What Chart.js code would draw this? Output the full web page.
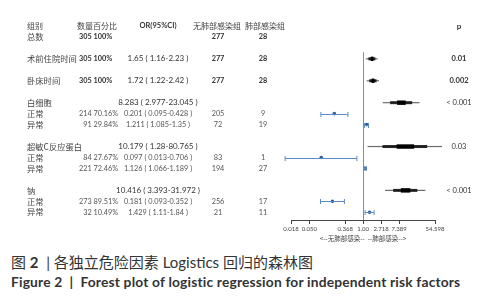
<!DOCTYPE html>
<html>
<head>
<meta charset="utf-8">
<script src="https://cdn.jsdelivr.net/npm/chart.js@4/dist/chart.umd.min.js"></script>
<style>
  body { margin: 0; background: #fff; width: 491px; height: 300px; overflow: hidden; }
  #wrap { position: relative; width: 491px; height: 244px; }
  .cap { position: absolute; left: 11px; white-space: nowrap; color: #333; font-family: Lato, "Noto Sans CJK SC", sans-serif; line-height: 1.2; }
  #cap1 { top: 253px; font-size: 15px; }
  #cap1 b { font-weight: bold; }
  #cap2 { top: 274px; font-size: 13.8px; font-weight: bold; letter-spacing: 0.18px; }
</style>
</head>
<body>
<div id="wrap"><canvas id="chart"></canvas></div>
<div class="cap" id="cap1">图 <b>2</b> &nbsp;|&nbsp;各独立危险因素 Logistics 回归的森林图</div>
<div class="cap" id="cap2">Figure 2 &nbsp;|&nbsp; Forest plot of logistic regression for independent risk factors</div>
<script>
// table rows (header row is separate)
const headers = ['组别', '数量百分比', 'OR(95%CI)', '无肺部感染组', '肺部感染组', 'p'];
const rowLabels = ['总数', '术前住院时间', '卧床时间', '白细胞', '正常', '异常', '超敏C反应蛋白', '正常', '异常', '钠', '正常', '异常'];
const rowKind = ['total', 'var', 'var', 'var', 'sub', 'sub', 'var', 'sub', 'sub', 'var', 'sub', 'sub'];
const counts = [305, 305, 305, null, 214, 91, null, 84, 221, null, 273, 32];
const percents = ['100%', '100%', '100%', null, '70.16%', '29.84%', null, '27.67%', '72.46%', null, '89.51%', '10.49%'];
const orValues = [null, 1.65, 1.72, 8.283, 0.201, 1.211, 10.179, 0.097, 1.126, 10.416, 0.181, 1.429];
const ciLow = [null, 1.16, 1.22, 2.977, 0.095, 1.085, 1.28, 0.013, 1.066, 3.393, 0.093, 1.11];
const ciHigh = [null, 2.23, 2.42, 23.045, 0.428, 1.35, 80.765, 0.706, 1.189, 31.972, 0.352, 1.84];
const noInfection = [277, 277, 277, null, 205, 72, null, 83, 194, null, 256, 21];
const infection = [28, 28, 28, null, 9, 19, null, 1, 27, null, 17, 11];
const pValues = [null, '0.01', '0.002', '< 0.001', null, null, '0.03', null, null, '< 0.001', null, null];
const tickValues = [0.018, 0.050, 0.368, 1.00, 2.718, 7.389, 54.598];
const tickLabels = ['0.018', '0.050', '0.368', '1.00', '2.718', '7.389', '54.598'];
const axisTitle = '<--无肺部感染--  --肺部感染-->';

// row positions: header at 0, gap of one row before each variable
const rowPos = [];
let pos = 0;
rowKind.forEach(k => { pos += (k === 'var') ? 2 : 1; rowPos.push(pos); });

const FONT = 'Lato, "Noto Sans CJK SC", sans-serif';
const cjk = '"Noto Sans CJK SC", Lato, sans-serif';

const subPoints = [], mainPoints = [];
orValues.forEach((v, i) => {
  if (v == null) return;
  const p = { x: Math.log(v), y: rowPos[i], lo: Math.log(ciLow[i]), hi: Math.log(ciHigh[i]) };
  (rowKind[i] === 'sub' ? subPoints : mainPoints).push(p);
});

const forestPlugin = {
  id: 'forest',
  afterDatasetsDraw(chart) {
    const ctx = chart.ctx, xs = chart.scales.x, ys = chart.scales.y;
    ctx.save();
    // reference line at OR = 1
    ctx.strokeStyle = '#8c8c8c';
    ctx.lineWidth = 1;
    ctx.beginPath();
    const x0 = Math.round(xs.getPixelForValue(0)) + 0.5;
    ctx.moveTo(x0, ys.getPixelForValue(2.4));
    ctx.lineTo(x0, chart.chartArea.bottom);
    ctx.stroke();
    // axis line from first to last tick
    ctx.strokeStyle = '#444';
    ctx.beginPath();
    const yb = Math.round(chart.chartArea.bottom) + 0.5;
    ctx.moveTo(xs.getPixelForValue(xs.min), yb);
    ctx.lineTo(xs.getPixelForValue(xs.max), yb);
    ctx.stroke();

    // blue error bars
    ctx.strokeStyle = '#5b8bc4';
    ctx.lineWidth = 1;
    subPoints.forEach(p => {
      const y = Math.round(ys.getPixelForValue(p.y)) + 0.5;
      const a = xs.getPixelForValue(p.lo), b = xs.getPixelForValue(p.hi);
      ctx.beginPath();
      ctx.moveTo(a, y); ctx.lineTo(b, y);
      ctx.moveTo(a, y - 2.5); ctx.lineTo(a, y + 2.5);
      ctx.moveTo(b, y - 2.5); ctx.lineTo(b, y + 2.5);
      ctx.stroke();
    });

    // black marks for the main variables: thin CI line, thicker band, thick core
    mainPoints.forEach(p => {
      const y = ys.getPixelForValue(p.y);
      const a = xs.getPixelForValue(p.lo), b = xs.getPixelForValue(p.hi), c = xs.getPixelForValue(p.x);
      ctx.fillStyle = 'rgba(60,60,60,0.75)';
      ctx.fillRect(a, y - 0.6, b - a, 1.2);
      ctx.fillStyle = 'rgba(20,20,20,0.9)';
      const m1 = a + (c - a) * 0.4, m2 = c + (b - c) * 0.6;
      ctx.fillRect(m1, y - 1.5, m2 - m1, 3);
      ctx.fillStyle = '#000';
      const k1 = a + (c - a) * 0.78, k2 = c + (b - c) * 0.25;
      ctx.fillRect(k1, y - 2.2, k2 - k1, 4.4);
    });
    ctx.restore();
  },
  afterDraw(chart) {
    const ctx = chart.ctx, ys = chart.scales.y;
    ctx.save();
    ctx.textBaseline = 'middle';
    const put = (txt, x, y, align, font, color) => {
      ctx.font = font; ctx.fillStyle = color; ctx.textAlign = align;
      ctx.fillText(txt, x, y);
    };
    // header
    const yh = ys.getPixelForValue(0);
    put(headers[0], 27, yh, 'left', '8px ' + cjk, '#444');
    put(headers[1], 77, yh, 'left', '8px ' + cjk, '#444');
    put(headers[2], 158, yh, 'center', 'bold 7.5px ' + FONT, '#333');
    put(headers[3], 193, yh, 'left', '8px ' + cjk, '#444');
    put(headers[4], 245, yh, 'left', '8px ' + cjk, '#444');
    put(headers[5], 459, yh, 'center', 'bold 8px ' + FONT, '#333');

    rowLabels.forEach((lab, i) => {
      const y = ys.getPixelForValue(rowPos[i]);
      const sub = rowKind[i] === 'sub';
      const main = !sub && counts[i] != null;
      const numCol = sub ? '#555' : '#333';
      put(lab, 27, y, 'left', '8.3px ' + cjk, '#444');
      if (counts[i] != null) {
        if (sub) put(counts[i] + ' ' + percents[i], 118, y, 'right', '7.3px ' + FONT, numCol);
        else put(counts[i] + ' ' + percents[i], 79, y, 'left', 'bold 7.3px ' + FONT, numCol);
      }
      if (orValues[i] != null) {
        const s = orValues[i] + ' ( ' + ciLow[i] + '-' + ciHigh[i] + ' )';
        put(s, 158, y, 'center', (sub ? '7.3px ' : '8px ') + FONT, numCol);
      }
      if (noInfection[i] != null) put(String(noInfection[i]), 218, y, 'center', (main ? 'bold ' : '') + '7.3px ' + FONT, numCol);
      if (infection[i] != null) put(String(infection[i]), 263, y, 'center', (main ? 'bold ' : '') + '7.3px ' + FONT, numCol);
      if (pValues[i] != null) put(pValues[i], 459, y, 'center', (main ? 'bold ' : '') + '7.5px ' + FONT, '#333');
    });
    ctx.restore();
  }
};

const config = {
  type: 'scatter',
  data: {
    datasets: [{
      label: 'sub',
      data: subPoints,
      pointRadius: 1.8,
      pointHoverRadius: 1.8,
      backgroundColor: '#2f5c96',
      borderColor: '#2f5c96',
      borderWidth: 0,
      clip: false
    }]
  },
  options: {
    responsive: true,
    maintainAspectRatio: false,
    animation: false,
    events: [],
    layout: { padding: { left: 291, right: 56, top: 4, bottom: 2 } },
    plugins: { legend: { display: false }, tooltip: { enabled: false } },
    scales: {
      x: {
        type: 'linear',
        min: Math.log(tickValues[0]),
        max: Math.log(tickValues[tickValues.length - 1]),
        afterBuildTicks: s => { s.ticks = tickValues.map(v => ({ value: Math.log(v) })); },
        border: { display: false },
        grid: { drawOnChartArea: false, tickLength: 4, color: '#444' },
        ticks: {
          autoSkip: false, maxRotation: 0, padding: 1,
          font: { size: 6, family: FONT }, color: '#444',
          callback: (v, i) => tickLabels[i]
        },
        title: { display: true, text: axisTitle, font: { size: 6.5, family: cjk }, color: '#444', padding: { top: 1, bottom: 0 } }
      },
      y: { type: 'linear', reverse: true, min: -2, max: 17.7, display: false }
    }
  },
  plugins: [forestPlugin]
};

var chart = new Chart(document.getElementById('chart'), config);
</script>
</body>
</html>
